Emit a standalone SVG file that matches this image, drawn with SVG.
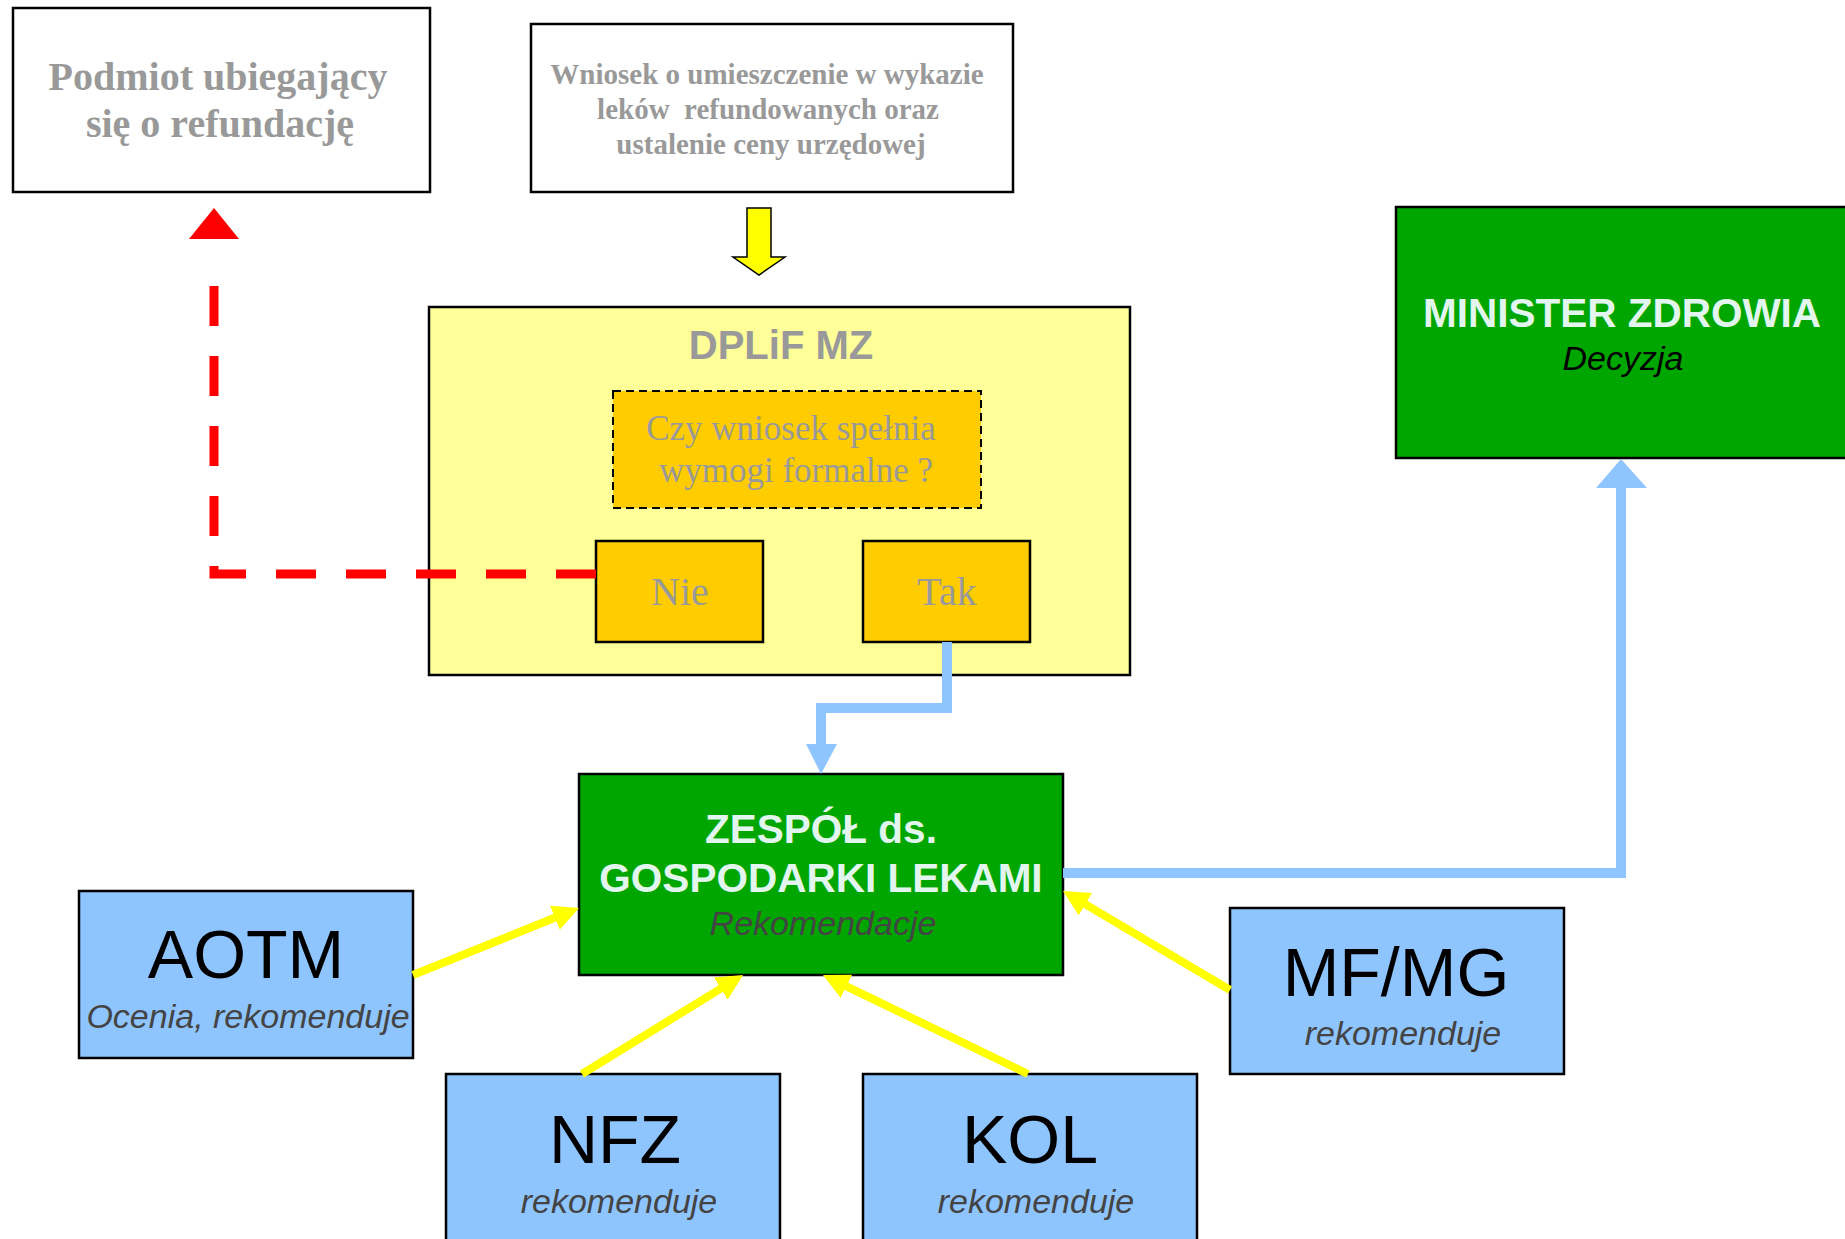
<svg xmlns="http://www.w3.org/2000/svg" width="1845" height="1239" viewBox="0 0 1845 1239">
<defs>
<style>
.box{stroke:#000;stroke-width:2.5}
.white{fill:#fff}
.blue{fill:#8FC5FF}
.green{fill:#00A600}
.serifb{font-family:"Liberation Serif","Times New Roman",serif;font-weight:bold;fill:#999;text-anchor:middle}
.serif{font-family:"Liberation Serif","Times New Roman",serif;fill:#999;text-anchor:middle}
.sans{font-family:"Liberation Sans",Arial,sans-serif;text-anchor:middle}
.big{font-size:68px;fill:#000}
.sub{font-size:34px;font-style:italic;fill:#444}
.title{font-size:40.5px;font-weight:bold;fill:#E3F5EF}
.yl{fill:none;stroke:#FFFF00;stroke-width:8;marker-end:url(#yh)}
.bl{fill:none;stroke:#8FC5FF;stroke-width:10}
</style>
<marker id="yh" markerUnits="userSpaceOnUse" markerWidth="28" markerHeight="28" refX="16" refY="13" orient="auto" viewBox="0 0 28 28">
<path d="M0,0 L26,13 L0,26 z" fill="#FFFF00"/>
</marker>
</defs>
<rect width="1845" height="1239" fill="#fff"/>

<g id="podmiot">
<rect class="box white" x="13" y="8" width="417" height="184"/>
<text class="serifb" font-size="40" x="218" y="90">Podmiot ubiegający</text>
<text class="serifb" font-size="40" x="220" y="137">się o refundację</text>
</g>

<g id="wniosek">
<rect class="box white" x="531" y="24" width="482" height="168"/>
<text class="serifb" font-size="29" x="767" y="84">Wniosek o umieszczenie w wykazie</text>
<text class="serifb" font-size="29" x="768" y="119" xml:space="preserve">leków  refundowanych oraz</text>
<text class="serifb" font-size="29" x="771" y="154">ustalenie ceny urzędowej</text>
</g>

<g id="dplif">
<rect class="box" fill="#FFFF99" x="429" y="307" width="701" height="368"/>
<text class="sans" font-size="40" font-weight="bold" fill="#999" x="781" y="359">DPLiF MZ</text>
</g>

<g id="pytanie">
<rect x="613" y="391" width="368" height="117" fill="#FFCC00" stroke="#000" stroke-width="2" stroke-dasharray="8 5"/>
<text class="serif" font-size="35" x="791" y="440">Czy wniosek spełnia</text>
<text class="serif" font-size="35" x="796" y="482">wymogi formalne ?</text>
</g>

<g id="nie">
<rect class="box" fill="#FFCC00" x="596" y="541" width="167" height="101"/>
<text class="serif" font-size="40" x="680" y="605">Nie</text>
</g>

<g id="tak">
<rect class="box" fill="#FFCC00" x="863" y="541" width="167" height="101"/>
<text class="serif" font-size="40" x="947" y="605">Tak</text>
</g>

<g id="minister">
<rect class="box green" stroke-width="3" x="1396" y="207" width="460" height="251"/>
<text class="sans title" font-size="41" x="1622" y="327">MINISTER ZDROWIA</text>
<text class="sans" font-size="34" font-style="italic" fill="#000" x="1623" y="370">Decyzja</text>
</g>

<g id="zespol">
<rect class="box green" x="579" y="774" width="484" height="201"/>
<text class="sans title" x="821" y="843">ZESPÓŁ ds.</text>
<text class="sans title" x="821" y="892">GOSPODARKI LEKAMI</text>
<text class="sans sub" x="823" y="935">Rekomendacje</text>
</g>

<g id="aotm">
<rect class="box blue" x="79" y="891" width="334" height="167"/>
<text class="sans big" x="246" y="978">AOTM</text>
<text class="sans sub" x="248" y="1028">Ocenia, rekomenduje</text>
</g>

<g id="nfz">
<rect class="box blue" x="446" y="1074" width="334" height="180"/>
<text class="sans big" x="615" y="1163">NFZ</text>
<text class="sans sub" x="619" y="1213">rekomenduje</text>
</g>

<g id="kol">
<rect class="box blue" x="863" y="1074" width="334" height="180"/>
<text class="sans big" x="1030" y="1163">KOL</text>
<text class="sans sub" x="1036" y="1213">rekomenduje</text>
</g>

<g id="mfmg">
<rect class="box blue" x="1230" y="908" width="334" height="166"/>
<text class="sans big" x="1396" y="996">MF/MG</text>
<text class="sans sub" x="1403" y="1045">rekomenduje</text>
</g>

<g id="connectors">
<path d="M596,574 H214 V259" fill="none" stroke="#FF0000" stroke-width="9" stroke-dasharray="40 30"/>
<polygon points="214,208 189,239 239,239" fill="#FF0000"/>
<polygon points="747,208 771,208 771,257 785,257 759,275 733,257 747,257" fill="#FFFF00" stroke="#000" stroke-width="1.5"/>
<path class="bl" d="M947,642 V708 H821 V745"/>
<polygon points="806,744 837,744 821,774" fill="#8FC5FF"/>
<path class="bl" d="M1063,873 H1621 V487"/>
<polygon points="1596,488 1647,488 1621,459" fill="#8FC5FF"/>
<path class="yl" d="M413,975 L569.7,911.7"/>
<path class="yl" d="M582,1074 L734.5,980.2"/>
<path class="yl" d="M1028,1074 L832,979.4"/>
<path class="yl" d="M1230,990 L1071.6,896.1"/>
</g>
</svg>
